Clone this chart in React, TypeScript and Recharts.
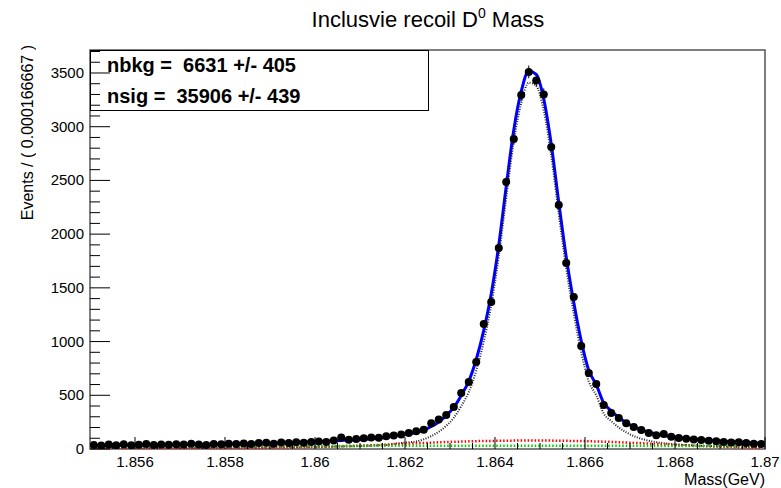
import {
  ComposedChart,
  Scatter,
  Line,
  XAxis,
  YAxis,
  ErrorBar,
  ReferenceArea,
} from 'recharts';

const font = 'Liberation Sans, Arial, Helvetica, sans-serif';

// binning: 90 bins over 1.855 - 1.87 GeV
const massLow = 1.855;
const binWidth = 0.000166667;

const counts = [
  38, 33, 41, 36, 44, 35, 40, 46, 37, 42,
  39, 45, 41, 48, 43, 38, 47, 44, 50, 46,
  52, 47, 55, 58, 50, 61, 56, 63, 59, 66,
  70, 64, 78, 108, 85, 92, 100, 108, 104, 118,
  126, 135, 148, 165, 180, 240, 275, 316, 391, 521,
  624, 810, 1164, 1369, 1871, 2486, 2886, 3296, 3510, 3430,
  3300, 2812, 2272, 1732, 1415, 959, 708, 605, 410, 335,
  289, 240, 205, 178, 150, 128, 140, 115, 102, 95,
  88, 84, 76, 72, 66, 60, 62, 55, 50, 47,
];

const totalFit = [
  31, 31, 32, 34, 34, 35, 35, 36, 38, 38,
  38, 40, 41, 41, 43, 44, 44, 45, 47, 48,
  49, 50, 52, 53, 55, 57, 59, 61, 63, 66,
  68, 72, 75, 79, 82, 86, 90, 96, 102, 108,
  122, 132, 142, 153, 176, 209, 252, 310, 387, 499,
  631, 833, 1104, 1445, 1896, 2447, 2968, 3328, 3518, 3488,
  3258, 2838, 2297, 1786, 1365, 1004, 732, 600, 428, 356,
  293, 245, 207, 179, 156, 140, 126, 116, 107, 100,
  93, 86, 81, 77, 73, 67, 64, 60, 57, 53,
];

const signalFit = [
  7, 7, 7, 8, 8, 8, 8, 8, 9, 9,
  9, 9, 10, 10, 10, 11, 11, 11, 12, 12,
  13, 13, 14, 14, 15, 16, 16, 17, 18, 19,
  20, 21, 22, 24, 25, 27, 29, 31, 34, 37,
  48, 55, 62, 70, 90, 120, 160, 215, 290, 400,
  530, 730, 1000, 1340, 1790, 2340, 2860, 3220, 3410, 3380,
  3150, 2730, 2190, 1680, 1260, 900, 630, 500, 330, 260,
  200, 155, 120, 95, 77, 64, 54, 47, 41, 37,
  33, 30, 28, 26, 24, 22, 21, 19, 18, 17,
];

const bkgRed = [
  4, 4, 4, 5, 5, 5, 5, 6, 6, 6,
  6, 7, 7, 7, 8, 8, 8, 9, 9, 10,
  10, 11, 11, 12, 13, 14, 15, 16, 17, 19,
  20, 22, 24, 26, 28, 30, 32, 35, 38, 41,
  44, 47, 50, 53, 56, 59, 62, 65, 67, 69,
  71, 73, 74, 75, 76, 77, 78, 78, 78, 78,
  78, 78, 77, 76, 75, 74, 72, 70, 68, 66,
  63, 60, 57, 54, 50, 47, 43, 40, 37, 34,
  31, 28, 25, 23, 21, 18, 16, 14, 12, 10,
];

const bkgGreen = [
  20, 20, 21, 21, 21, 22, 22, 22, 23, 23,
  23, 24, 24, 24, 25, 25, 25, 25, 26, 26,
  26, 26, 27, 27, 27, 27, 28, 28, 28, 28,
  28, 29, 29, 29, 29, 29, 29, 30, 30, 30,
  30, 30, 30, 30, 30, 30, 30, 30, 30, 30,
  30, 30, 30, 30, 30, 30, 30, 30, 30, 30,
  30, 30, 30, 30, 30, 30, 30, 30, 30, 30,
  30, 30, 30, 30, 29, 29, 29, 29, 29, 29,
  29, 28, 28, 28, 28, 27, 27, 27, 27, 26,
];

// labelled ticks and all tick marks
const xLabels = [1.856, 1.858, 1.86, 1.862, 1.864, 1.866, 1.868, 1.87];
const xTicks = [
  1.8555, 1.856, 1.8565, 1.857, 1.8575, 1.858, 1.8585, 1.859, 1.8595, 1.86,
  1.8605, 1.861, 1.8615, 1.862, 1.8625, 1.863, 1.8635, 1.864, 1.8645, 1.865,
  1.8655, 1.866, 1.8665, 1.867, 1.8675, 1.868, 1.8685, 1.869, 1.8695, 1.87,
];
const yLabels = [0, 500, 1000, 1500, 2000, 2500, 3000, 3500];
const yTicks = [
  0, 100, 200, 300, 400, 500, 600, 700, 800, 900, 1000, 1100, 1200, 1300, 1400,
  1500, 1600, 1700, 1800, 1900, 2000, 2100, 2200, 2300, 2400, 2500, 2600, 2700,
  2800, 2900, 3000, 3100, 3200, 3300, 3400, 3500, 3600, 3700,
];

const yMax = 3714;

const rows = counts.map((n, i) => ({
  m: massLow + (i + 0.5) * binWidth,
  n,
  ex: binWidth / 2,
  ey: Math.sqrt(n),
  total: totalFit[i],
  sig: signalFit[i],
  red: bkgRed[i],
  green: bkgGreen[i],
}));

const XTick = (p: any) => {
  const v = p.payload.value;
  const major = xLabels.some((t) => Math.abs(t - v) < 1e-7);
  return (
    <g>
      <line x1={p.x} x2={p.x} y1={p.y} y2={p.y - (major ? 12 : 6)} stroke='#000' />
      {major && (
        <text x={p.x} y={p.y + 18} textAnchor='middle' fontSize={15} fontFamily={font} fill='#000'>
          {v}
        </text>
      )}
    </g>
  );
};

const YTick = (p: any) => {
  const v = p.payload.value;
  const major = yLabels.includes(v);
  return (
    <g>
      <line x1={p.x} x2={p.x + (major ? 20 : 10)} y1={p.y} y2={p.y} stroke='#000' />
      {major && (
        <text x={p.x - 6} y={p.y + 5} textAnchor='end' fontSize={15} fontFamily={font} fill='#000'>
          {v}
        </text>
      )}
    </g>
  );
};

const Marker = (p: any) => <circle cx={p.cx} cy={p.cy} r={4} fill='#000' />;

export default function App() {
  return (
    <div style={{ position: 'absolute', left: 0, top: 0, width: 781, height: 488, background: '#fff', fontFamily: font }}>
      <ComposedChart
        width={781}
        height={488}
        data={rows}
        margin={{ top: 50, right: 16, bottom: 9, left: 30 }}
      >
        <XAxis
          dataKey='m'
          type='number'
          domain={[1.855, 1.87]}
          allowDataOverflow
          ticks={xTicks}
          interval={0}
          height={30}
          tickSize={0}
          tickMargin={0}
          axisLine={false}
          tickLine={false}
          tick={XTick}
        />
        <YAxis
          type='number'
          domain={[0, yMax]}
          allowDataOverflow
          ticks={yTicks}
          interval={0}
          width={60}
          tickSize={0}
          tickMargin={0}
          axisLine={false}
          tickLine={false}
          tick={YTick}
        />
        <ReferenceArea
          x1={1.855}
          x2={1.87}
          y1={0}
          y2={yMax}
          fill='none'
          fillOpacity={0}
          stroke='#555'
          strokeWidth={1.5}
          ifOverflow='visible'
        />
        <Scatter dataKey='n' shape={Marker} isAnimationActive={false}>
          <ErrorBar dataKey='ey' direction='y' width={0} stroke='#000' strokeWidth={1} />
          <ErrorBar dataKey='ex' direction='x' width={0} stroke='#000' strokeWidth={1} />
        </Scatter>
        <Line type='monotone' dataKey='total' stroke='#0000ff' strokeWidth={3} dot={false} isAnimationActive={false} />
        <Line type='monotone' dataKey='sig' stroke='#222' strokeWidth={2} strokeDasharray='1 1.5' dot={false} isAnimationActive={false} />
        <Line type='monotone' dataKey='red' stroke='#ff0000' strokeWidth={2.5} strokeDasharray='1.5 2' dot={false} isAnimationActive={false} />
        <Line type='monotone' dataKey='green' stroke='#00cc00' strokeWidth={2.5} strokeDasharray='1.5 2' dot={false} isAnimationActive={false} />
      </ComposedChart>

      <div style={{ position: 'absolute', left: 228, top: 7, width: 400, textAlign: 'center', fontSize: 22, lineHeight: '26px', color: '#000' }}>
        Inclusvie recoil D
        <span style={{ fontSize: 14, position: 'relative', top: -9 }}>0</span> Mass
      </div>

      <div style={{ position: 'absolute', left: 90, top: 50, width: 337, height: 59, border: '1px solid #000' }} />
      <div style={{ position: 'absolute', left: 107, top: 53, fontSize: 20, lineHeight: '24px', fontWeight: 'bold', whiteSpace: 'pre', color: '#000' }}>
        {'nbkg =  6631 +/- 405'}
      </div>
      <div style={{ position: 'absolute', left: 107, top: 84, fontSize: 20, lineHeight: '24px', fontWeight: 'bold', whiteSpace: 'pre', color: '#000' }}>
        {'nsig =  35906 +/- 439'}
      </div>

      <div style={{ position: 'absolute', left: 19, top: 45, fontSize: 16, lineHeight: '17px', writingMode: 'vertical-rl', transform: 'rotate(180deg)', whiteSpace: 'pre', color: '#000' }}>
        {'Events / ( 0.000166667 )'}
      </div>

      <div style={{ position: 'absolute', right: 16, top: 471, fontSize: 16, lineHeight: '18px', color: '#000' }}>
        Mass(GeV)
      </div>
    </div>
  );
}
